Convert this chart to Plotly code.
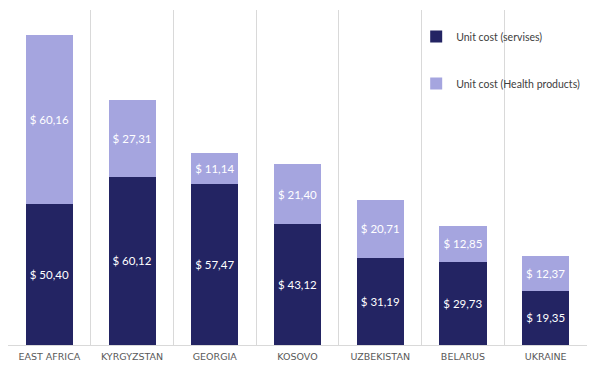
import plotly.graph_objects as go

categories = ["EAST AFRICA", "KYRGYZSTAN", "GEORGIA", "KOSOVO", "UZBEKISTAN", "BELARUS", "UKRAINE"]
services = [50.40, 60.12, 57.47, 43.12, 31.19, 29.73, 19.35]
health_products = [60.16, 27.31, 11.14, 21.40, 20.71, 12.85, 12.37]

def fmt(v):
    return "$ " + f"{v:.2f}".replace(".", ",")

fig = go.Figure()
fig.add_trace(go.Bar(
    x=categories, y=services, name="Unit cost (servises)",
    marker=dict(color="#232463", line=dict(width=0)),
    text=[fmt(v) for v in services], textposition="inside",
    insidetextanchor="middle", textangle=0,
    textfont=dict(color="white", size=11.5, family="Lato"),
    legendgroup="a",
))
fig.add_trace(go.Bar(
    x=categories, y=health_products, name="Unit cost (Health products)",
    marker=dict(color="#A5A5DF", line=dict(width=0)),
    text=[fmt(v) for v in health_products], textposition="inside",
    insidetextanchor="middle", textangle=0,
    textfont=dict(color="white", size=11.5, family="Lato"),
    legendgroup="b",
))

fig.update_layout(
    barmode="stack",
    bargap=0.43,
    width=591, height=368,
    margin=dict(l=0, r=12, t=2, b=31),
    paper_bgcolor="white", plot_bgcolor="white",
    font=dict(family="Lato", color="#595959"),
    uniformtext=dict(minsize=8, mode="show"),
    legend=dict(
        x=0.705, y=0.964, xanchor="left", yanchor="top",
        traceorder="grouped", tracegroupgap=28,
        font=dict(size=10.5, color="#404040", family="Lato"),
        bgcolor="rgba(0,0,0,0)", itemwidth=30,
    ),
    xaxis=dict(
        tickson="boundaries", showgrid=True, gridcolor="#D9D9D9", gridwidth=1,
        showline=True, linecolor="#D9D9D9", linewidth=1, mirror=False,
        ticks="", tickfont=dict(size=9.5, color="#595959", family="DejaVu Sans"),
        ticklabelstandoff=3,
        range=[-0.5, 6.5],
    ),
    yaxis=dict(range=[0, 119.6], showgrid=False, showticklabels=False,
               zeroline=False, showline=False),
)

fig.write_html("out.html")
